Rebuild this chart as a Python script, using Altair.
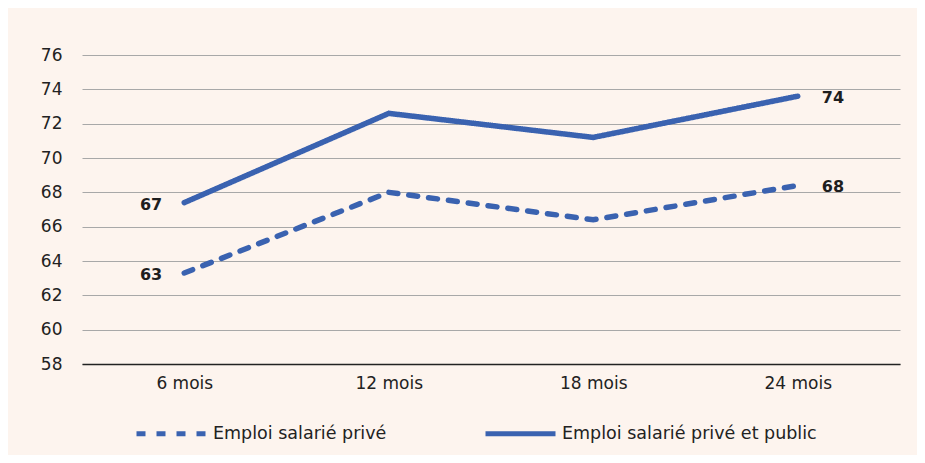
import altair as alt
import pandas as pd

periods = ["6 mois", "12 mois", "18 mois", "24 mois"]
series_names = ["Emploi salarié privé", "Emploi salarié privé et public"]
prive = [63.3, 68.0, 66.4, 68.4]
prive_public = [67.4, 72.6, 71.2, 73.6]
y_ticks = [58, 60, 62, 64, 66, 68, 70, 72, 74, 76]

rows = []
for i, p in enumerate(periods):
    rows.append({"periode": p, "serie": series_names[0], "valeur": prive[i], "idx": i})
    rows.append({"periode": p, "serie": series_names[1], "valeur": prive_public[i], "idx": i})
df = pd.DataFrame(rows)

FONT = "DejaVu Sans"
BLUE = "#3a62b0"

x = alt.X("periode:N", sort=periods, title=None,
          axis=alt.Axis(labelAngle=0, ticks=False, domain=True, domainColor="#222222",
                        domainWidth=1.5, labelFontSize=17, labelPadding=11,
                        labelColor="#222222", labelFont=FONT, grid=False))
y = alt.Y("valeur:Q", title=None,
          scale=alt.Scale(domain=[58, 76], nice=False, zero=False),
          axis=alt.Axis(values=y_ticks, domain=False, ticks=False, labelFontSize=17,
                        labelPadding=20, labelColor="#222222", labelFont=FONT,
                        labelOverlap=False, gridColor="#a8a8a8", gridWidth=1))

lines = alt.Chart(df).mark_line(strokeWidth=5.5, strokeCap="round", color=BLUE).encode(
    x=x, y=y,
    strokeDash=alt.StrokeDash(
        "serie:N",
        scale=alt.Scale(domain=series_names, range=[[9, 11], [1, 0]]),
        legend=alt.Legend(title=None, orient="none", legendX=52, legendY=341,
                          direction="horizontal", symbolType="stroke", symbolSize=4900,
                          symbolStrokeWidth=5, symbolStrokeColor=BLUE, labelFontSize=17.5,
                          labelFont=FONT, labelColor="#222222", labelOffset=4,
                          columnPadding=88, labelLimit=400),
    ),
)

first_labels = alt.Chart(df).transform_filter("datum.idx == 0").mark_text(
    align="right", baseline="middle", dx=-22, dy=2, fontSize=16, fontWeight="bold",
    font=FONT, color="#1e1e1e").encode(
    x=x, y=y,
    text=alt.Text("valeur:Q", format=".0f"))

last_labels = alt.Chart(df).transform_filter("datum.idx == 3").mark_text(
    align="left", baseline="middle", dx=24, dy=2, fontSize=16, fontWeight="bold",
    font=FONT, color="#1e1e1e").encode(
    x=x, y=y,
    text=alt.Text("valeur:Q", format=".0f"))

chart = alt.layer(lines, first_labels, last_labels).properties(
    width=818, height=309,
    autosize=alt.AutoSizeParams(type="none"),
    padding={"left": 74, "top": 47, "right": 17, "bottom": 91},
    background="#fdf4ee",
).configure_view(stroke=None).configure_axis(labelFont=FONT)

chart.save("out.html", embed_options={"renderer": "svg", "actions": False})
